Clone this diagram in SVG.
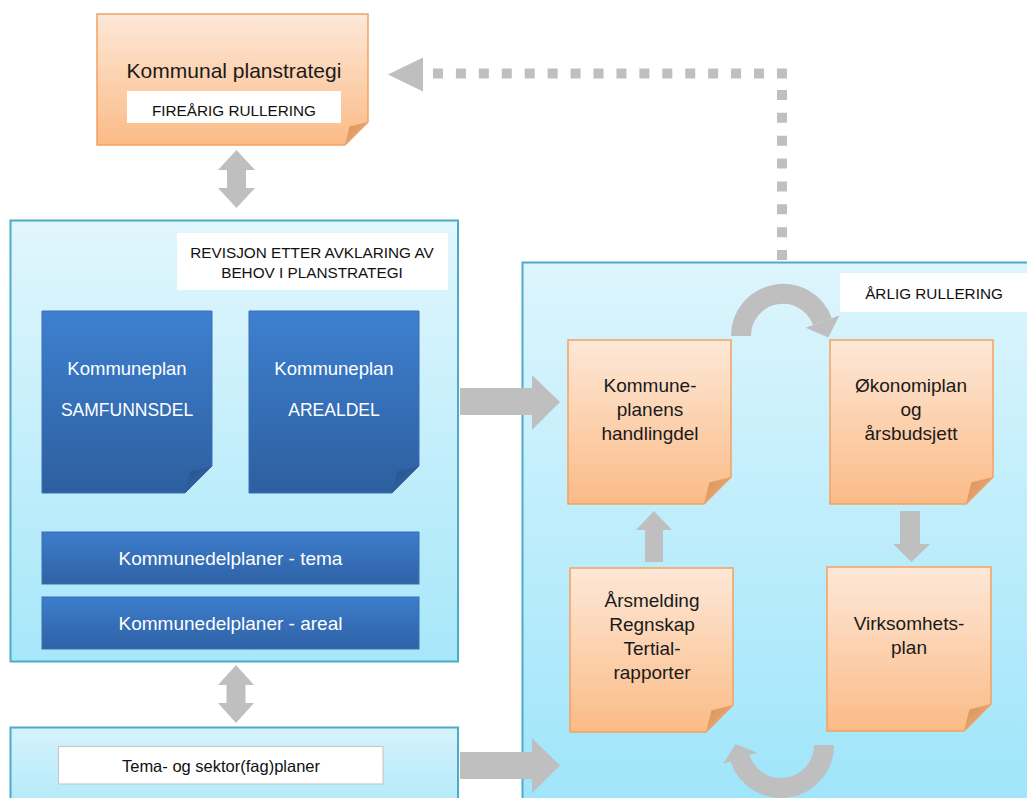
<svg xmlns="http://www.w3.org/2000/svg" width="1027" height="798" viewBox="0 0 1027 798">
<style>
text{font-family:"Liberation Sans",Arial,sans-serif;text-anchor:middle;}
.dark{fill:#1a1a1a;}
.wt{fill:#ffffff;}
.lbl{font-size:15.3px;fill:#111;}
.note{fill:url(#gOr);stroke:#f4a160;stroke-width:1.5;}
.fold{fill:url(#gFold);}
.doc{fill:url(#gBl);stroke:#3a6fb5;stroke-width:1;}
.bfold{fill:url(#gBFold);}
.frame{stroke:#4bacc6;stroke-width:2;}
.wbox{fill:#ffffff;}
.arr{fill:#bfbfbf;}
.arc{fill:none;stroke:#bfbfbf;stroke-width:20;}
.dash{fill:none;stroke:#bfbfbf;stroke-width:10;stroke-dasharray:10 12.93;}
.big{font-size:19px;}
</style>
<defs>
<linearGradient id="gOr" x1="0" y1="0" x2="0" y2="1"><stop offset="0" stop-color="#fde8d8"/><stop offset="1" stop-color="#fbbb86"/></linearGradient>
<linearGradient id="gFold" x1="0" y1="0" x2="1" y2="1"><stop offset="0" stop-color="#d8925a"/><stop offset="1" stop-color="#f0b07c"/></linearGradient>
<linearGradient id="gBl" x1="0" y1="0" x2="0" y2="1"><stop offset="0" stop-color="#3e80d0"/><stop offset="1" stop-color="#2d5f9f"/></linearGradient>
<linearGradient id="gBar" x1="0" y1="0" x2="0" y2="1"><stop offset="0" stop-color="#3d7dcc"/><stop offset="1" stop-color="#2f62a5"/></linearGradient>
<linearGradient id="gBFold" x1="0" y1="0" x2="1" y2="1"><stop offset="0" stop-color="#244f86"/><stop offset="1" stop-color="#3a6db0"/></linearGradient>
<linearGradient id="gCy" x1="0" y1="0" x2="0" y2="1"><stop offset="0" stop-color="#e1f6fd"/><stop offset="1" stop-color="#a7e7f9"/></linearGradient>
<linearGradient id="gCyR" x1="0" y1="0" x2="0" y2="1"><stop offset="0" stop-color="#ddf5fd"/><stop offset="1" stop-color="#9fe5fa"/></linearGradient>
<linearGradient id="gCyL" x1="0" y1="0" x2="0" y2="1"><stop offset="0" stop-color="#d6f2fc"/><stop offset="1" stop-color="#b2eafa"/></linearGradient>
</defs>

<g id="right-panel">
<rect class="frame" x="522.5" y="262.5" width="510" height="540" fill="url(#gCyR)"/>
<rect class="wbox" x="840" y="273" width="190" height="39"/>
<text class="lbl" x="934" y="299">ÅRLIG RULLERING</text>
</g>

<g id="left-panel">
<rect class="frame" x="10.5" y="220.5" width="447.5" height="441" fill="url(#gCy)"/>
<rect class="wbox" x="177" y="233" width="271" height="57"/>
<text class="lbl" x="312" y="258">REVISJON ETTER AVKLARING AV</text>
<text class="lbl" x="312" y="278">BEHOV I PLANSTRATEGI</text>
</g>

<g id="lower-panel">
<rect class="frame" x="10.5" y="727.5" width="447.5" height="80" fill="url(#gCyL)"/>
<rect x="58.5" y="746.5" width="324.5" height="37.5" fill="#ffffff" stroke="#c8c8c8" stroke-width="1.2"/>
<text x="221" y="772" style="font-size:16.5px;fill:#111">Tema- og sektor(fag)planer</text>
</g>

<g id="planstrategi">
<path class="note" d="M97 14 H368 V122 L345 145 H97 Z"/>
<path class="fold" d="M368 122 L345 145 L349.6 126.6 Z"/>
<text class="dark" x="234" y="78" style="font-size:21px">Kommunal planstrategi</text>
<rect class="wbox" x="127" y="91" width="214" height="32"/>
<text class="lbl" x="234" y="116">FIREÅRIG RULLERING</text>
</g>

<g id="samfunnsdel">
<path class="doc" d="M42 311 H212 V466 L185 493 H42 Z"/>
<path class="bfold" d="M212 466 L185 493 L190.4 471.4 Z"/>
<text class="wt" x="127" y="375" style="font-size:18.5px">Kommuneplan</text>
<text class="wt" x="127" y="416" style="font-size:17.5px">SAMFUNNSDEL</text>
</g>

<g id="arealdel">
<path class="doc" d="M249 311 H419 V466 L392 493 H249 Z"/>
<path class="bfold" d="M419 466 L392 493 L397.4 471.4 Z"/>
<text class="wt" x="334" y="375" style="font-size:18.5px">Kommuneplan</text>
<text class="wt" x="334" y="416" style="font-size:17.5px">AREALDEL</text>
</g>

<g id="kdp-tema">
<rect x="42" y="532" width="377" height="52" fill="url(#gBar)" stroke="#3a6fb5" stroke-width="1"/>
<text class="wt" x="230.5" y="565" style="font-size:19px">Kommunedelplaner - tema</text>
</g>

<g id="kdp-areal">
<rect x="42" y="597" width="377" height="52" fill="url(#gBar)" stroke="#3a6fb5" stroke-width="1"/>
<text class="wt" x="230.5" y="630" style="font-size:19px">Kommunedelplaner - areal</text>
</g>

<g id="handlingdel">
<path class="note" d="M568 340 H731 V477 L704 504 H568 Z"/>
<path class="fold" d="M731 477 L704 504 L709.4 482.4 Z"/>
<text class="dark big" x="650" y="392">Kommune-</text>
<text class="dark big" x="650" y="416">planens</text>
<text class="dark big" x="650" y="440">handlingdel</text>
</g>

<g id="okonomiplan">
<path class="note" d="M830 340 H993 V477 L966 504 H830 Z"/>
<path class="fold" d="M993 477 L966 504 L971.4 482.4 Z"/>
<text class="dark big" x="911" y="392">Økonomiplan</text>
<text class="dark big" x="911" y="416">og</text>
<text class="dark big" x="911" y="440">årsbudsjett</text>
</g>

<g id="arsmelding">
<path class="note" d="M570 568 H733 V705 L706 732 H570 Z"/>
<path class="fold" d="M733 705 L706 732 L711.4 710.4 Z"/>
<text class="dark big" x="652" y="607">Årsmelding</text>
<text class="dark big" x="652" y="631">Regnskap</text>
<text class="dark big" x="652" y="655">Tertial-</text>
<text class="dark big" x="652" y="679">rapporter</text>
</g>

<g id="virksomhetsplan">
<path class="note" d="M827 567 H991 V704 L964 731 H827 Z"/>
<path class="fold" d="M991 704 L964 731 L969.4 709.4 Z"/>
<text class="dark big" x="909" y="630">Virksomhets-</text>
<text class="dark big" x="909" y="654">plan</text>
</g>

<g id="connectors">
<path class="dash" d="M433 73.5 H787"/>
<path class="dash" d="M782 90 V262" style="stroke-dasharray:10 12.86"/>
<path class="arr" d="M388 74.5 L423 57.5 L423 91.5 Z"/>
<path class="arr" d="M236.5 150 L255 170 L246 170 L246 188 L255 188 L236.5 208 L218 188 L227 188 L227 170 L218 170 Z"/>
<path class="arr" d="M236 665 L254 685 L245.5 685 L245.5 703 L254 703 L236 723 L218 703 L226.5 703 L226.5 685 L218 685 Z"/>
<path class="arr" d="M460 388 H532 V375 L560 402 L532 430 V415 H460 Z"/>
<path class="arr" d="M460 752 H532 V738 L560 765.5 L532 793 V779 H460 Z"/>
<path class="arr" d="M654 511 L672 530 H663 V562 H645 V530 H636 Z"/>
<path class="arr" d="M900 511 H920 V544 H930 L911.5 562 L893 544 H900 Z"/>
<path class="arc" d="M741 336 A42 42 0 0 1 822.5 321.6"/>
<path class="arr" d="M839.4 315.4 L828.3 337.6 L805.6 327.8 Z"/>
<path class="arc" d="M824 745 A43 43 0 0 1 740.1 758.3"/>
<path class="arr" d="M723 763.9 L735.5 744 L757.2 752.7 Z"/>
</g>
</svg>
